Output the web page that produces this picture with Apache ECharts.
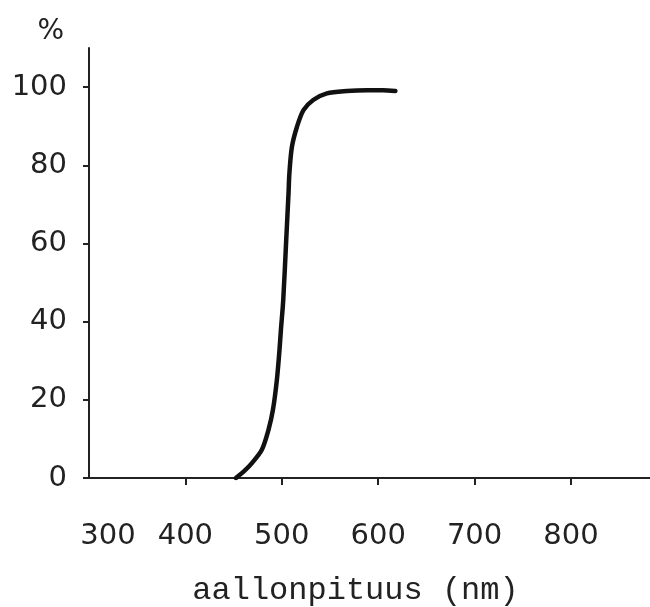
<!DOCTYPE html>
<html>
<head>
<meta charset="utf-8">
<script src="https://cdn.jsdelivr.net/npm/echarts@6/dist/echarts.min.js"></script>
<style>html,body{margin:0;padding:0;background:#fff;}#c{width:650px;height:607px;}</style>
</head>
<body>
<div id="c"></div>
<script>
const wavelengths = [452.5, 462.0, 469.0, 479.3, 486.2, 490.8, 494.9, 497.6, 499.1, 501.5, 504.6, 507.0, 507.9, 510.5, 515.7, 522.5, 532.6, 546.8, 567.5, 588.7, 605.0, 617.8];
const transmission = [0, 2.0, 3.8, 7.2, 12.3, 17.4, 25.1, 32.7, 37.9, 45.5, 60.9, 72.9, 78.0, 84.7, 89.8, 94.1, 96.7, 98.4, 99.0, 99.2, 99.2, 99.0];
const xTicks = [300, 400, 500, 600, 700, 800];
const yTicks = [0, 20, 40, 60, 80, 100];
const xTitle = 'aallonpituus (nm)';
const yTitle = '%';

const chart = echarts.init(document.getElementById('c'));
const ink = '#222';
chart.setOption({
  backgroundColor: '#fff',
  animation: false,
  grid: { left: 89, right: 0, top: 48, bottom: 129, containLabel: false, outerBoundsMode: 'none' },
  xAxis: {
    type: 'value', min: 300, max: 882,
    name: xTitle, nameLocation: 'middle', nameGap: 97,
    nameTextStyle: { fontFamily: 'Liberation Mono', fontSize: 32, color: ink, padding: [0, 28, 0, 0] },
    axisLine: { show: true, lineStyle: { color: ink, width: 2 } },
    axisTick: { show: true, length: 7, lineStyle: { color: ink, width: 2 }, customValues: xTicks.slice(1) },
    splitLine: { show: false },
    axisLabel: {
      customValues: xTicks, margin: 44,
      fontFamily: 'DejaVu Sans', fontSize: 29, color: ink,
      formatter: v => v === xTicks[0] ? '{f|' + v + '}' : String(v),
      rich: { f: { fontFamily: 'DejaVu Sans', fontSize: 29, color: ink, padding: [0, 0, 0, 38] } }
    }
  },
  yAxis: {
    type: 'value', min: 0, max: 110,
    name: yTitle, nameLocation: 'end', nameGap: 2,
    nameTextStyle: { fontFamily: 'DejaVu Sans', fontSize: 28, color: ink, align: 'right', padding: [0, 25, 0, 0] },
    axisLine: { show: true, lineStyle: { color: ink, width: 2 } },
    axisTick: { show: true, length: 6, lineStyle: { color: ink, width: 2 }, customValues: yTicks },
    splitLine: { show: false },
    axisLabel: { customValues: yTicks, margin: 22, fontFamily: 'DejaVu Sans', fontSize: 29, color: ink }
  },
  series: [{
    type: 'line', smooth: 0.3, symbol: 'none',
    lineStyle: { color: '#111', width: 4.5, cap: 'round', join: 'round' },
    data: wavelengths.map((w, i) => [w, transmission[i]])
  }]
});
</script>
</body>
</html>
